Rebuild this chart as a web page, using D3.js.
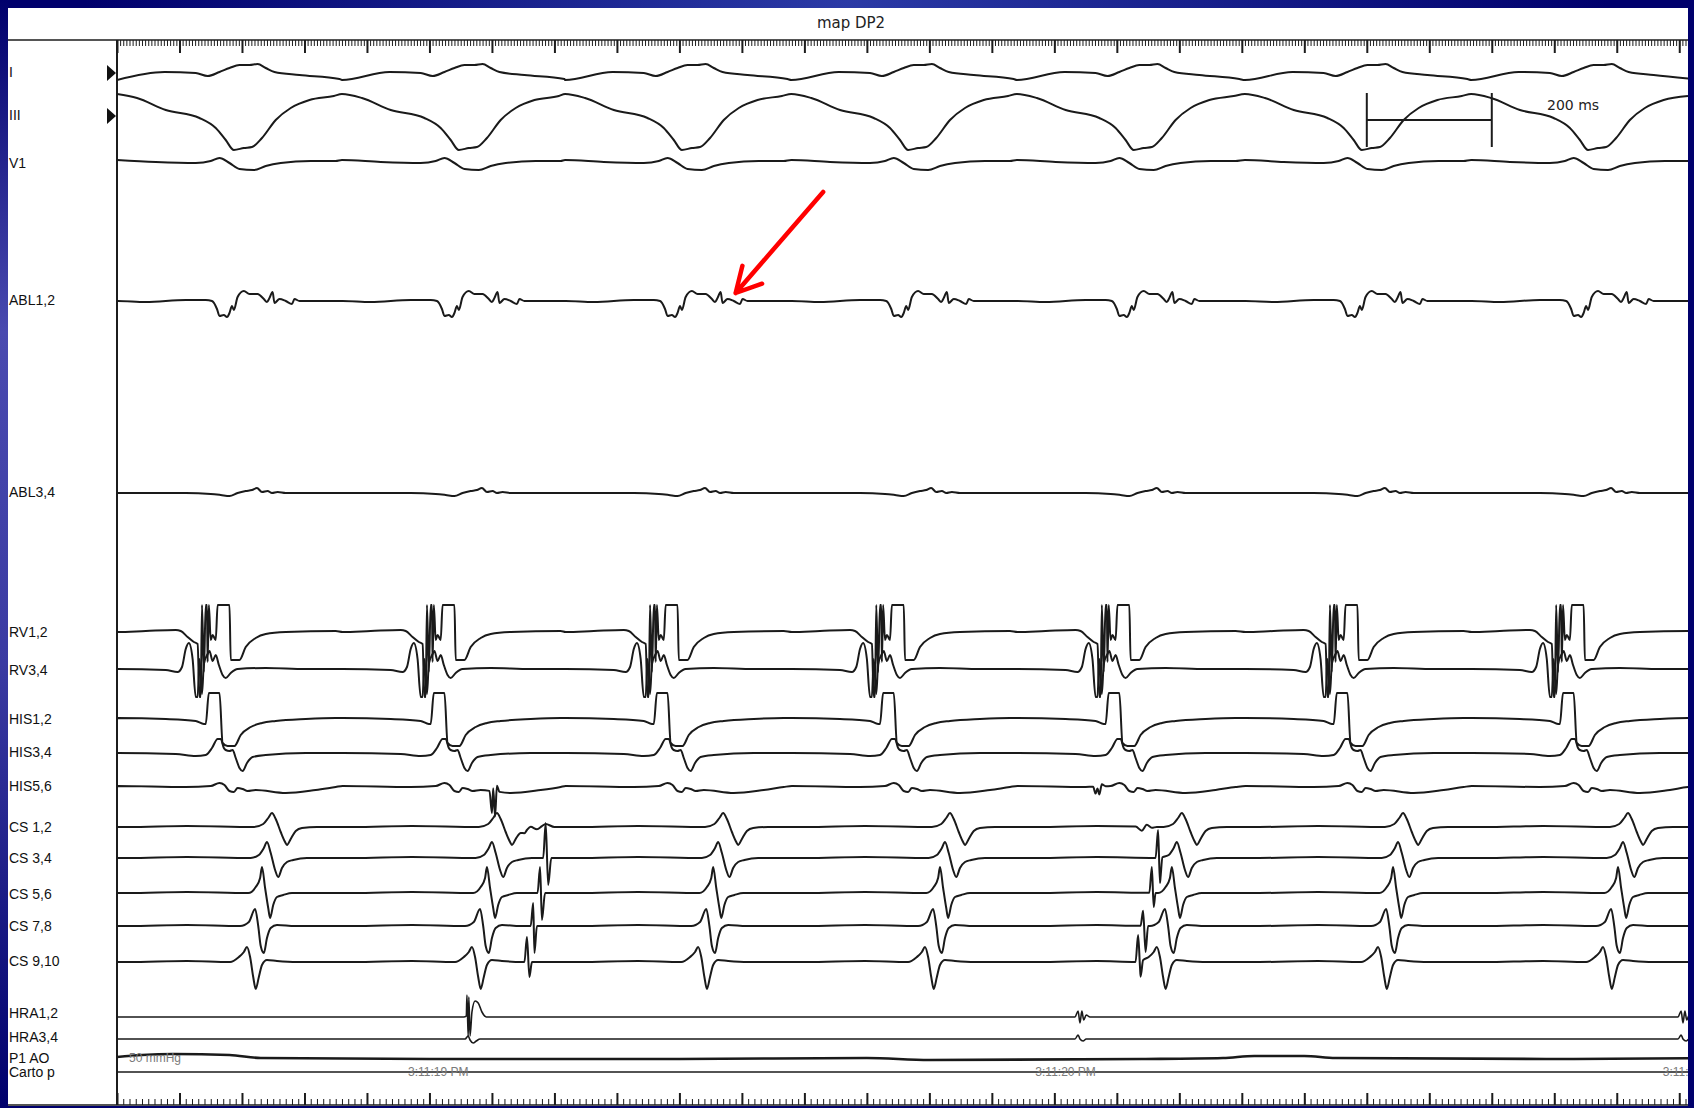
<!DOCTYPE html>
<html>
<head>
  <meta charset="utf-8" />
  <title>map DP2</title>
  <style>
    body { margin: 0; background: #00006c; overflow: hidden; }
    .trace { fill: none; stroke: #1a1a1a; stroke-width: 2px; stroke-linejoin: round; }
    .thin { stroke-width: 1.6px; }
    .label { font-family: "Liberation Sans", Arial, sans-serif; font-size: 14px; fill: #111; }
    .ruler line { stroke: #1c1c1c; stroke-width: 1px; }
    .ruler.major line { stroke-width: 2px; }
    .frame { stroke: #1c1c1c; fill: none; }
    .stamp { font-family: "Liberation Sans", Arial, sans-serif; font-size: 12px; fill: #7a7a7a; }
  </style>
  <script src="https://cdnjs.cloudflare.com/ajax/libs/d3/7.8.5/d3.min.js"></script>
</head>
<body>
  <svg id="chart" width="1694" height="1108"></svg>
  <script>
    // ---- data (time in ms from left edge of the sweep, amplitude in display units) ----
    var T_END = 2514;
    var channels = ['I', 'III', 'V1', 'ABL1,2', 'ABL3,4', 'RV1,2', 'RV3,4', 'HIS1,2', 'HIS3,4', 'HIS5,6',
      'CS 1,2', 'CS 3,4', 'CS 5,6', 'CS 7,8', 'CS 9,10', 'HRA1,2', 'HRA3,4', 'P1 AO', 'Carto p'];

    var vBeats = [142, 502, 859, 1221, 1582, 1947, 2309];   // RV spike times
    var aBeats = [208, 568, 930, 1293, 1664, 2018, 2378];   // CS 9,10 onset times
    var hraBig = [565];
    var hraSmall = [1541, 2506];

    // templates [ms from beat, amplitude], locked to ventricular beat
    var tplI = [[-142, -5], [-66, 3], [-16, 2], [3, -1], [22, 3], [38, 7], [54, 10], [70, 10], [83, 11], [96, 7], [110, 3], [150, 0], [214, -4]];
    var tplIII = [[-142, 22], [-110, 18], [-64, 6], [-10, -2], [16, -12], [32, -24], [45, -34], [61, -32], [74, -31], [90, -22], [112, -4], [136, 8], [166, 16], [205, 20]];
    var tplV1 = [[-142, 4], [-80, 2], [-16, 1], [8, 3], [22, 6], [38, 1], [54, -5], [77, -6], [96, -2], [120, 1], [168, 3], [208, 3]];
    var tplAbl12 = [[-141, 0], [-96, -1], [-32, 1], [0, 1], [10, 0], [18, -8], [22, -15], [29, -14], [34, -16], [38, -12], [42, -5], [45, -9], [51, 4], [61, 10], [70, 7], [83, 7], [93, 2], [98, -1], [102, 3], [107, 9], [110, -2], [118, 2], [128, 0], [138, -3], [142, 2], [150, 0], [208, 0]];
    var tplAbl34 = [[-141, 0], [-32, 0], [8, -1], [24, -2], [38, -3], [51, 0], [64, 2], [74, 3], [82, 5], [90, 1], [99, 2], [106, 0], [115, 1], [128, 0], [208, 0]];
    var tplRv12 = [[-141, 0], [-96, 1], [-48, 2], [-40, 1], [-29, -5], [-19, -10], [-13, -12], [-10, -65], [-8, -65], [-6, 27], [-3, -40], [0, 27], [2, 27], [3, -30], [5, 27], [8, -8], [11, -3], [16, -8], [19, 27], [38, 27], [40, -28], [54, -28], [64, -15], [80, -6], [96, -2], [128, 0], [208, 1]];
    var tplRv34 = [[-141, 0], [-64, -1], [-45, -3], [-38, 2], [-32, 20], [-27, 26], [-21, 10], [-16, -28], [-13, -28], [-10, 10], [-6, -25], [-3, 5], [3, 15], [6, 18], [11, 8], [16, 14], [21, 4], [27, -6], [32, -9], [40, -4], [51, 0], [96, 1], [160, 0], [208, 0]];
    var tplHis12 = [[-141, 1], [-64, 0], [-16, -2], [-3, -5], [0, -5], [5, 26], [22, 26], [27, -24], [35, -27], [46, -27], [56, -16], [72, -8], [90, -4], [112, -2], [160, 0], [208, 1]];
    var tplHis34 = [[-141, 0], [-48, -1], [-16, -3], [0, -2], [10, 5], [19, 14], [24, 14], [29, 5], [32, 3], [38, 2], [43, 3], [48, -5], [54, -15], [59, -18], [66, -10], [75, -4], [96, -2], [160, 0], [208, 0]];
    var tplHis56 = [[-141, 1], [-32, 0], [8, 1], [22, 4], [30, 2], [38, -4], [45, -5], [51, -1], [59, -2], [67, -4], [80, -3], [128, -6], [176, -3], [208, 0]];

    // templates locked to CS 9,10 onset
    var tplCs12 = [[-190, 0], [-96, 1], [11, 0], [26, 3], [34, 9], [40, 14], [46, 8], [54, -5], [61, -15], [64, -18], [70, -12], [78, -4], [88, -1], [112, 0], [160, 0]];
    var tplCs34 = [[-190, 0], [-96, 1], [6, 0], [19, 3], [27, 10], [32, 16], [38, 5], [45, -12], [50, -19], [56, -10], [64, -4], [74, -2], [96, 0], [160, 0]];
    var tplCs56 = [[-190, 0], [-96, 1], [2, 0], [14, 6], [21, 15], [24, 26], [29, 5], [34, -15], [37, -25], [42, -12], [48, -4], [58, -2], [72, 0], [160, 0]];
    var tplCs78 = [[-190, 0], [-96, 1], [-11, 0], [3, 4], [13, 17], [18, 0], [22, -20], [27, -27], [32, -12], [38, -2], [48, 1], [77, 0], [160, 0]];
    var tplCs910 = [[-190, 0], [-96, 1], [-27, 0], [-13, 5], [-5, 10], [0, 15], [5, 5], [10, -15], [14, -27], [19, -15], [24, -3], [32, 2], [48, 1], [80, 0], [160, 0]];

    // extra sharp potentials seen in beats 2 and 5 [ms, amplitude]
    var xtraHis56 = [[596, 0], [600, -22], [602, 3], [605, -25], [608, 6], [612, 0], [1562, 0], [1566, -7], [1569, -2], [1572, -8], [1576, 2], [1582, 0]];
    var xtraCs12 = [[640, 0], [652, -4], [662, 1], [672, -2], [686, 3], [700, 0], [1630, 0], [1640, -4], [1648, 2], [1656, -1], [1664, 0]];
    var xtraCs34 = [[682, 0], [686, 35], [690, -27], [695, 0], [1662, 0], [1666, 28], [1669, -25], [1673, 0]];
    var xtraCs56 = [[673, 0], [677, 26], [680, -27], [685, 0], [1652, 0], [1656, 26], [1659, -14], [1662, 0]];
    var xtraCs78 = [[662, 0], [666, 23], [668, -27], [672, 0], [1638, 0], [1642, 15], [1646, -26], [1650, 0]];
    var xtraCs910 = [[652, 0], [656, 25], [660, -15], [664, 0], [1630, 0], [1634, 27], [1638, -15], [1642, 0]];

    // atrial catheter
    var tplHra12Big = [[-10, 0], [-6, 1], [-5, 22], [-3, -20], [-2, 20], [0, -19], [3, 5], [8, 16], [13, 14], [19, 5], [26, 0]];
    var tplHra12Small = [[-8, 0], [-3, 6], [0, -6], [3, 6], [6, -3], [10, 2], [16, 0]];
    var tplHra34Big = [[-8, 0], [-3, 3], [0, -1], [5, -4], [10, -2], [16, 0]];
    var tplHra34Small = [[-8, 0], [-3, 4], [0, 0], [5, -2], [10, 0]];
    var flat = [[0, 0], [T_END + 40, 0]];
    var p1ao = [[0, 1], [40, 3], [90, 4], [180, 3], [230, 0], [500, -1], [900, -1], [1200, 0], [1300, -2], [1640, -1], [1770, 0], [1820, 2], [1900, 2], [1950, 0], [2300, -1], [T_END + 40, 0]];

    var timeLabels = ['3:11:19 PM', '3:11:20 PM', '3:11:21 PM'];
    var timeLabelMs = [514, 1518, 2522];
    var scaleBarMs = [2000, 2200];
    var scaleBarText = '200 ms';
    var pressureText = '50 mmHg';
    var arrowFrom = [1130, 109];   // ms, ABL1,2 amplitude
    var arrowTo = [990, 8];

    // ---- layout ----
    var xLeft = 117, xRight = 1688, yTop = 40, yBottom = 1105;
    var baseY = [75, 116, 164, 301, 493, 632, 669, 719, 753, 787, 827, 858, 893, 926, 962, 1017, 1039, 1058, 1072];
    var labelY = [73, 116, 164, 301, 493, 633, 671, 720, 753, 787, 828, 859, 895, 927, 962, 1014, 1038, 1059, 1073];

    var parts = [
      [[tplI, vBeats]],
      [[tplIII, vBeats]],
      [[tplV1, vBeats]],
      [[tplAbl12, vBeats], [flat, [0]]],
      [[tplAbl34, vBeats], [flat, [0]]],
      [[tplRv12, vBeats], [flat, [0]]],
      [[tplRv34, vBeats], [flat, [0]]],
      [[tplHis12, vBeats], [flat, [0]]],
      [[tplHis34, vBeats], [flat, [0]]],
      [[tplHis56, vBeats], [xtraHis56, [0]], [flat, [0]]],
      [[tplCs12, aBeats], [xtraCs12, [0]], [flat, [0]]],
      [[tplCs34, aBeats], [xtraCs34, [0]], [flat, [0]]],
      [[tplCs56, aBeats], [xtraCs56, [0]], [flat, [0]]],
      [[tplCs78, aBeats], [xtraCs78, [0]], [flat, [0]]],
      [[tplCs910, aBeats], [xtraCs910, [0]], [flat, [0]]],
      [[tplHra12Big, hraBig], [tplHra12Small, hraSmall], [flat, [0]]],
      [[tplHra34Big, hraBig], [tplHra34Small, hraSmall], [flat, [0]]],
      [[p1ao, [0]]],
      [[flat, [0]]]
    ];

    var bis = d3.bisector(d => d[0]).right;
    function valueAt(tpl, dt) {
      if (dt < tpl[0][0] || dt > tpl[tpl.length - 1][0]) return 0;
      var i = bis(tpl, dt);
      if (i >= tpl.length) return tpl[tpl.length - 1][1];
      var a = tpl[i - 1], b = tpl[i];
      return a[1] + (b[1] - a[1]) * (dt - a[0]) / (b[0] - a[0]);
    }
    function series(p) {
      var knots = new Set();
      p.forEach(function (q) {
        q[1].forEach(function (tb) { q[0].forEach(function (d) { knots.add(tb + d[0]); }); });
      });
      return Array.from(knots).sort((a, b) => a - b).map(function (t) {
        return [t, d3.sum(p, q => d3.sum(q[1], tb => valueAt(q[0], t - tb)))];
      });
    }

    var svg = d3.select('#chart');
    var defs = svg.append('defs');
    var rg = defs.append('radialGradient').attr('id', 'glow').attr('cx', '50%').attr('cy', '0%').attr('r', '45%');
    rg.append('stop').attr('offset', '0%').attr('stop-color', '#2b3aa6');
    rg.append('stop').attr('offset', '100%').attr('stop-color', '#00006c');
    var lg = defs.append('linearGradient').attr('id', 'side').attr('x1', 0).attr('y1', 0).attr('x2', 0).attr('y2', 1);
    lg.append('stop').attr('offset', '0%').attr('stop-color', '#00006c');
    lg.append('stop').attr('offset', '30%').attr('stop-color', '#4a4ab0');
    lg.append('stop').attr('offset', '60%').attr('stop-color', '#3a3aa2');
    lg.append('stop').attr('offset', '100%').attr('stop-color', '#00006c');
    defs.append('clipPath').attr('id', 'plot').append('rect')
      .attr('x', xLeft).attr('y', yTop).attr('width', xRight - xLeft).attr('height', yBottom - yTop);

    svg.append('rect').attr('width', 1694).attr('height', 1108).attr('fill', 'url(#glow)');
    svg.append('rect').attr('x', 0).attr('y', 0).attr('width', 8).attr('height', 1108).attr('fill', 'url(#side)');
    svg.append('rect').attr('x', 8).attr('y', 8).attr('width', xRight - 8).attr('height', yBottom + 1 - 8).attr('fill', '#fff');

    var x = d3.scaleLinear().domain([0, T_END]).range([xLeft, xRight]);

    // title + frame
    svg.append('text').attr('x', 851).attr('y', 23).attr('text-anchor', 'middle').attr('dominant-baseline', 'middle')
      .style('font-family', '"DejaVu Sans", Verdana, sans-serif').style('font-size', '15px').style('fill', '#222')
      .text('map DP2');
    svg.append('line').attr('class', 'frame').attr('x1', 8).attr('x2', xRight).attr('y1', yTop).attr('y2', yTop).style('stroke-width', 1.5);
    svg.append('line').attr('class', 'frame').attr('x1', xLeft).attr('x2', xLeft).attr('y1', yTop).attr('y2', yBottom).style('stroke-width', 2);
    svg.append('line').attr('class', 'frame').attr('x1', 8).attr('x2', xRight).attr('y1', yBottom).attr('y2', yBottom).style('stroke-width', 1.5);

    // rulers
    function ruler(axis, y, step, size, cls) {
      svg.append('g').attr('class', 'ruler ' + cls).attr('transform', 'translate(0,' + y + ')')
        .call(axis(x).tickValues(d3.range(0, T_END, step)).tickSize(size).tickFormat(''))
        .call(g => g.select('.domain').remove());
    }
    ruler(d3.axisBottom, yTop, 5, 6, 'minor');
    ruler(d3.axisBottom, yTop, 100, 13, 'major');
    ruler(d3.axisTop, yBottom, 10, 6, 'minor');
    ruler(d3.axisTop, yBottom, 100, 12, 'major');

    // labels
    svg.selectAll('.label').data(channels).enter().append('text')
      .attr('class', 'label').attr('x', 9).attr('y', (d, i) => labelY[i])
      .attr('dominant-baseline', 'middle').text(d => d);
    [0, 1].forEach(function (i) {
      svg.append('path').attr('d', 'M107,' + (labelY[i] - 8) + 'L116,' + labelY[i] + 'L107,' + (labelY[i] + 8) + 'Z').attr('fill', '#111');
    });

    // traces
    var plot = svg.append('g').attr('clip-path', 'url(#plot)');
    var yScales = baseY.map(b => d3.scaleLinear().domain([-100, 100]).range([b + 100, b - 100]));
    channels.forEach(function (c, i) {
      var line = d3.line().x(d => x(d[0])).y(d => yScales[i](d[1])).curve(d3.curveMonotoneX);
      plot.append('path').attr('class', 'trace' + (i >= 15 ? ' thin' : ''))
        .style('stroke-width', c === 'P1 AO' ? '2.6px' : null)
        .attr('d', line(series(parts[i])));
    });

    // stamps
    plot.selectAll('.stamp').data(timeLabels).enter().append('text')
      .attr('class', 'stamp').attr('x', (d, i) => x(timeLabelMs[i])).attr('y', 1076)
      .attr('text-anchor', 'middle').text(d => d);
    svg.append('text').attr('class', 'stamp').attr('x', 129).attr('y', 1062).text(pressureText);

    // 200 ms calibration bar
    var sb = svg.append('g').attr('class', 'frame').style('stroke-width', 2);
    sb.append('line').attr('x1', x(scaleBarMs[0])).attr('x2', x(scaleBarMs[0])).attr('y1', 93).attr('y2', 147);
    sb.append('line').attr('x1', x(scaleBarMs[1])).attr('x2', x(scaleBarMs[1])).attr('y1', 93).attr('y2', 147);
    sb.append('line').attr('x1', x(scaleBarMs[0])).attr('x2', x(scaleBarMs[1])).attr('y1', 120).attr('y2', 120);
    svg.append('text').attr('x', 1547).attr('y', 106).attr('dominant-baseline', 'middle')
      .style('font-family', '"DejaVu Sans", Verdana, sans-serif').style('font-size', '14px').style('fill', '#222')
      .text(scaleBarText);

    // red arrow on ABL1,2
    var ya = yScales[3];
    var tail = [x(arrowFrom[0]), ya(arrowFrom[1])], tip = [x(arrowTo[0]), ya(arrowTo[1])];
    var ang = Math.atan2(tail[1] - tip[1], tail[0] - tip[0]);
    function barb(da) { return [tip[0] + 28 * Math.cos(ang + da), tip[1] + 28 * Math.sin(ang + da)]; }
    var b1 = barb(-0.47), b2 = barb(0.52);
    svg.append('path').attr('d', 'M' + tail + 'L' + tip + 'M' + b1 + 'L' + tip + 'L' + b2)
      .attr('fill', 'none').attr('stroke', '#f00').attr('stroke-width', 4.5).attr('stroke-linecap', 'round').attr('stroke-linejoin', 'round');
  </script>
</body>
</html>
